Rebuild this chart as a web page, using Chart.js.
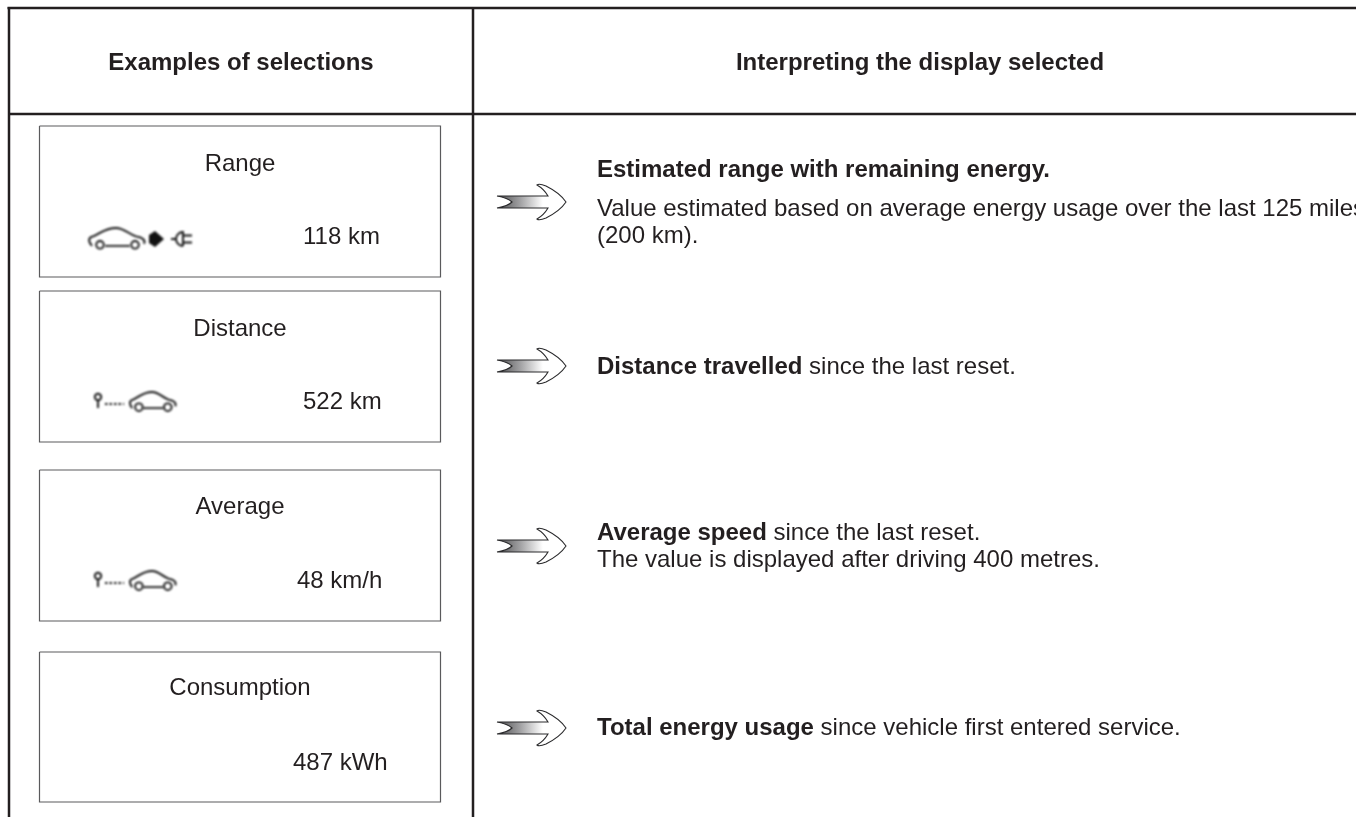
<!DOCTYPE html>
<html>
<head>
<meta charset="utf-8">
<title>Examples of selections</title>
<style>
  html, body { margin: 0; background: #fff; overflow: hidden; }
  canvas { display: block; }
</style>
<script src="https://cdn.jsdelivr.net/npm/chart.js"></script>
</head>
<body>
<canvas id="tableChart" width="1356" height="817"></canvas>
<script>
// Table content
const headers = ['Examples of selections', 'Interpreting the display selected'];
const panelTitles = ['Range', 'Distance', 'Average', 'Consumption'];
const panelValues = ['118 km', '522 km', '48 km/h', '487 kWh'];
const panelIcons = ['carToPlug', 'pinToCar', 'pinToCar', null];
const notes = [
  [[['Estimated range with remaining energy.', true]],
   [['Value estimated based on average energy usage over the last 125 miles', false]],
   [['(200 km).', false]]],
  [[['Distance travelled', true], [' since the last reset.', false]]],
  [[['Average speed', true], [' since the last reset.', false]],
   [['The value is displayed after driving 400 metres.', false]]],
  [[['Total energy usage', true], [' since vehicle first entered service.', false]]]
];

// Layout, in picture pixels
const panelTops = [126, 291, 470, 652];
const panelBottoms = [277, 442, 621, 802];
const panelLeft = 39.5;
const panelRight = 440.5;
const titleBaselines = [171, 336, 514, 695];
const valueBaselines = [244, 409, 588, 770];
const valueLefts = [303, 303, 297, 293];
const iconMiddles = [239, 402, 581];
const arrowMiddles = [202, 366, 546, 728];
const noteBaselines = [[177, 216, 243], [374], [540, 567], [735]];
const noteLeft = 597;
const ink = '#231f20';
const font = '"Liberation Sans", Arial, sans-serif';

function rule(points, width, color) {
  return { data: points, borderColor: color, borderWidth: width, pointRadius: 0, showLine: true, tension: 0, fill: false };
}

const ruleSets = [
  rule([{ x: 7.5, y: 8 }, { x: 1356, y: 8 }], 2.5, ink),
  rule([{ x: 9, y: 7 }, { x: 9, y: 817 }], 2.5, ink),
  rule([{ x: 473, y: 7 }, { x: 473, y: 817 }], 2.5, ink),
  rule([{ x: 8, y: 114 }, { x: 1356, y: 114 }], 2.5, ink)
];
const panelSets = panelTops.map((top, i) => rule([
  { x: panelLeft, y: top }, { x: panelRight, y: top },
  { x: panelRight, y: panelBottoms[i] }, { x: panelLeft, y: panelBottoms[i] },
  { x: panelLeft, y: top }
], 1.2, '#5a5a5c'));

// outline of the little car, w and h are its box
function drawCar(ctx, px, py, x, y, w, h) {
  const X = v => px(x + v * w / 57);
  const Y = v => py(y + v * h / 20);
  ctx.beginPath();
  ctx.moveTo(X(4), Y(17));
  ctx.bezierCurveTo(X(0), Y(13), X(0), Y(9), X(5), Y(8));
  ctx.bezierCurveTo(X(14), Y(4), X(18), Y(0), X(28), Y(0));
  ctx.bezierCurveTo(X(36), Y(0), X(41), Y(6), X(48), Y(8));
  ctx.bezierCurveTo(X(54), Y(9), X(58), Y(11), X(56), Y(15));
  ctx.moveTo(X(42), Y(17));
  ctx.lineTo(X(17), Y(17));
  ctx.stroke();
  ctx.beginPath();
  ctx.arc(X(12), Y(16), 3.8, 0, Math.PI * 2);
  ctx.moveTo(X(51), Y(16));
  ctx.arc(X(47), Y(16), 3.8, 0, Math.PI * 2);
  ctx.stroke();
}

function drawIcon(ctx, px, py, kind, mid) {
  ctx.save();
  ctx.filter = 'blur(0.8px)';
  ctx.strokeStyle = '#111';
  ctx.fillStyle = '#111';
  ctx.lineWidth = 1.9;
  if (kind === 'carToPlug') {
    drawCar(ctx, px, py, 88, mid - 11, 57, 21);
    // small arrow head
    ctx.beginPath();
    ctx.moveTo(px(149), py(mid - 4));
    ctx.lineTo(px(155), py(mid - 8));
    ctx.lineTo(px(164), py(mid));
    ctx.lineTo(px(155), py(mid + 8));
    ctx.lineTo(px(149), py(mid + 4));
    ctx.closePath();
    ctx.fill();
    // plug
    ctx.beginPath();
    ctx.arc(px(183), py(mid), 7, Math.PI * 0.5, Math.PI * 1.5);
    ctx.lineTo(px(183), py(mid + 7));
    ctx.moveTo(px(176), py(mid));
    ctx.lineTo(px(171), py(mid));
    ctx.moveTo(px(183), py(mid - 3.5));
    ctx.lineTo(px(192), py(mid - 3.5));
    ctx.moveTo(px(183), py(mid + 3.5));
    ctx.lineTo(px(192), py(mid + 3.5));
    ctx.stroke();
  } else {
    ctx.beginPath();
    ctx.arc(px(98), py(mid - 5), 3.2, 0, Math.PI * 2);
    ctx.moveTo(px(98), py(mid - 2));
    ctx.lineTo(px(98), py(mid + 6));
    ctx.stroke();
    ctx.setLineDash([2.5, 2]);
    ctx.beginPath();
    ctx.moveTo(px(105), py(mid + 2));
    ctx.lineTo(px(124), py(mid + 2));
    ctx.stroke();
    ctx.setLineDash([]);
    drawCar(ctx, px, py, 129, mid - 10, 47, 19);
  }
  ctx.restore();
}

function drawArrow(ctx, px, py, mid) {
  const grad = ctx.createLinearGradient(px(497), 0, px(548), 0);
  grad.addColorStop(0, '#4d4d4f');
  grad.addColorStop(0.45, '#a0a0a2');
  grad.addColorStop(0.9, '#ffffff');
  ctx.save();
  // shaft shading first, follows the tail notch
  ctx.beginPath();
  ctx.moveTo(px(497), py(mid - 6));
  ctx.lineTo(px(548), py(mid - 6));
  ctx.lineTo(px(548), py(mid + 6));
  ctx.lineTo(px(497), py(mid + 6));
  ctx.quadraticCurveTo(px(508), py(mid + 4), px(512), py(mid));
  ctx.quadraticCurveTo(px(508), py(mid - 4), px(497), py(mid - 6));
  ctx.closePath();
  ctx.fillStyle = grad;
  ctx.fill();
  // outline on top
  ctx.beginPath();
  ctx.moveTo(px(497), py(mid - 6));
  ctx.lineTo(px(548), py(mid - 6));
  ctx.quadraticCurveTo(px(544), py(mid - 13), px(537), py(mid - 17));
  ctx.quadraticCurveTo(px(539), py(mid - 19), px(546), py(mid - 16));
  ctx.quadraticCurveTo(px(560), py(mid - 9), px(566), py(mid));
  ctx.quadraticCurveTo(px(560), py(mid + 9), px(546), py(mid + 16));
  ctx.quadraticCurveTo(px(539), py(mid + 19), px(537), py(mid + 17));
  ctx.quadraticCurveTo(px(544), py(mid + 13), px(548), py(mid + 6));
  ctx.lineTo(px(497), py(mid + 6));
  ctx.quadraticCurveTo(px(508), py(mid + 4), px(512), py(mid));
  ctx.quadraticCurveTo(px(508), py(mid - 4), px(497), py(mid - 6));
  ctx.closePath();
  ctx.strokeStyle = '#2a2a2c';
  ctx.lineWidth = 1.1;
  ctx.stroke();
  ctx.restore();
}

const tablePlugin = {
  id: 'tableText',
  afterDatasetsDraw(chart) {
    const ctx = chart.ctx;
    const px = v => chart.scales.x.getPixelForValue(v);
    const py = v => chart.scales.y.getPixelForValue(v);
    ctx.save();
    ctx.fillStyle = ink;
    ctx.textBaseline = 'alphabetic';

    ctx.font = 'bold 24px ' + font;
    ctx.textAlign = 'center';
    ctx.fillText(headers[0], px(241), py(69.5));
    ctx.fillText(headers[1], px(920), py(69.5));

    ctx.font = '24px ' + font;
    panelTitles.forEach((t, i) => ctx.fillText(t, px(240), py(titleBaselines[i])));
    ctx.textAlign = 'left';
    panelValues.forEach((t, i) => ctx.fillText(t, px(valueLefts[i]), py(valueBaselines[i])));

    notes.forEach((lines, n) => {
      lines.forEach((runs, l) => {
        let x = px(noteLeft);
        runs.forEach(([text, bold]) => {
          ctx.font = (bold ? 'bold ' : '') + '24px ' + font;
          ctx.fillText(text, x, py(noteBaselines[n][l]));
          x += ctx.measureText(text).width;
        });
      });
    });
    ctx.restore();

    panelIcons.forEach((kind, i) => { if (kind) drawIcon(ctx, px, py, kind, iconMiddles[i]); });
    arrowMiddles.forEach(mid => drawArrow(ctx, px, py, mid));
  }
};

new Chart(document.getElementById('tableChart'), {
  type: 'scatter',
  data: { datasets: ruleSets.concat(panelSets) },
  options: {
    responsive: false,
    animation: false,
    layout: { padding: 0 },
    plugins: { legend: { display: false }, tooltip: { enabled: false } },
    scales: {
      x: { type: 'linear', min: 0, max: 1356, display: false },
      y: { type: 'linear', min: 0, max: 817, reverse: true, display: false }
    }
  },
  plugins: [tablePlugin]
});
</script>
</body>
</html>
